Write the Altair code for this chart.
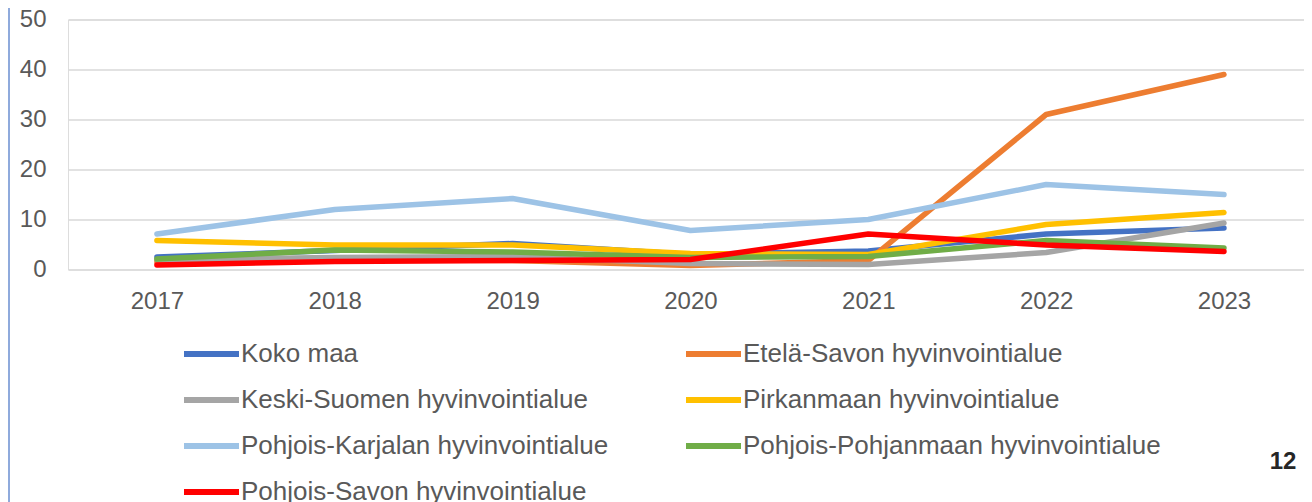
import altair as alt
import pandas as pd

years = [2017, 2018, 2019, 2020, 2021, 2022, 2023]
series = [
    "Koko maa",
    "Etelä-Savon hyvinvointialue",
    "Keski-Suomen hyvinvointialue",
    "Pirkanmaan hyvinvointialue",
    "Pohjois-Karjalan hyvinvointialue",
    "Pohjois-Pohjanmaan hyvinvointialue",
    "Pohjois-Savon hyvinvointialue",
]
koko_maa = [2.5, 3.8, 5.2, 3.0, 3.7, 7.1, 8.3]
etela_savo = [1.5, 2.0, 1.8, 0.8, 1.8, 31.0, 39.0]
keski_suomi = [2.0, 2.4, 2.6, 1.2, 1.0, 3.4, 9.3]
pirkanmaa = [5.8, 4.9, 4.9, 3.2, 3.0, 9.0, 11.4]
pohjois_karjala = [7.1, 12.0, 14.2, 7.8, 10.0, 17.0, 15.0]
pohjois_pohjanmaa = [2.1, 3.9, 3.5, 2.4, 2.6, 5.8, 4.3]
pohjois_savo = [0.9, 1.6, 1.8, 2.0, 7.1, 4.9, 3.6]
colors = ["#4472C4", "#ED7D31", "#A5A5A5", "#FFC000", "#9DC3E6", "#70AD47", "#FF0000"]
y_ticks = [0, 10, 20, 30, 40, 50]
page_number = "12"

values = [koko_maa, etela_savo, keski_suomi, pirkanmaa, pohjois_karjala,
          pohjois_pohjanmaa, pohjois_savo]
rows = []
for i, (name, vals) in enumerate(zip(series, values)):
    for yr, v in zip(years, vals):
        rows.append({"alue": name, "vuosi": yr, "arvo": v, "order": i})
df = pd.DataFrame(rows)

FONT = "Liberation Sans"
GREY = "#595959"

lines = alt.Chart(df).mark_line(
    strokeWidth=5.5, strokeCap="round", strokeJoin="round"
).encode(
    x=alt.X("vuosi:Q",
            scale=alt.Scale(domain=[2016.5, 2023.45], nice=False, zero=False),
            axis=alt.Axis(values=years, format="d", title=None, grid=False,
                          domain=False, ticks=False, labelPadding=20,
                          labelFontSize=24, labelColor=GREY, labelFont=FONT)),
    y=alt.Y("arvo:Q",
            scale=alt.Scale(domain=[0, 50], nice=False),
            axis=alt.Axis(values=y_ticks, title=None, grid=True,
                          gridColor="#D9D9D9", gridWidth=1.5,
                          domain=False, ticks=False, labelPadding=22,
                          labelFontSize=24, labelColor=GREY, labelFont=FONT)),
    color=alt.Color("alue:N",
                    scale=alt.Scale(domain=series, range=colors),
                    legend=alt.Legend(
                        title=None, orient="none", legendX=108, legendY=321.5,
                        direction="horizontal",
                        columns=2, columnPadding=65, rowPadding=20,
                        symbolType="M-1,0H10", symbolSize=100,
                        symbolStrokeWidth=6, symbolOffset=0,
                        labelOffset=39, labelFontSize=26, labelColor=GREY,
                        labelFont=FONT, labelLimit=600, padding=0)),
    order=alt.Order("order:Q"),
)

deco = pd.DataFrame({"k": [0]})
border = alt.Chart(deco).mark_rule(color="#8FAADC", strokeWidth=2).encode(
    x=alt.value(-59), y=alt.value(-12), y2=alt.value(483)
)
page = alt.Chart(pd.DataFrame({"t": [page_number]})).mark_text(
    font=FONT, fontSize=24, fontWeight="bold", color="#262626",
    align="center", baseline="middle"
).encode(x=alt.value(1215), y=alt.value(442.5), text="t:N")

chart = alt.layer(lines, border, page).properties(
    width=1236, height=250,
    autosize=alt.AutoSizeParams(type="none"),
    padding={"left": 60, "top": 11.5, "right": 0, "bottom": 232},
).configure_view(stroke=None).configure(background="white")

chart.save("out.html", embed_options={"renderer": "svg", "actions": False})
